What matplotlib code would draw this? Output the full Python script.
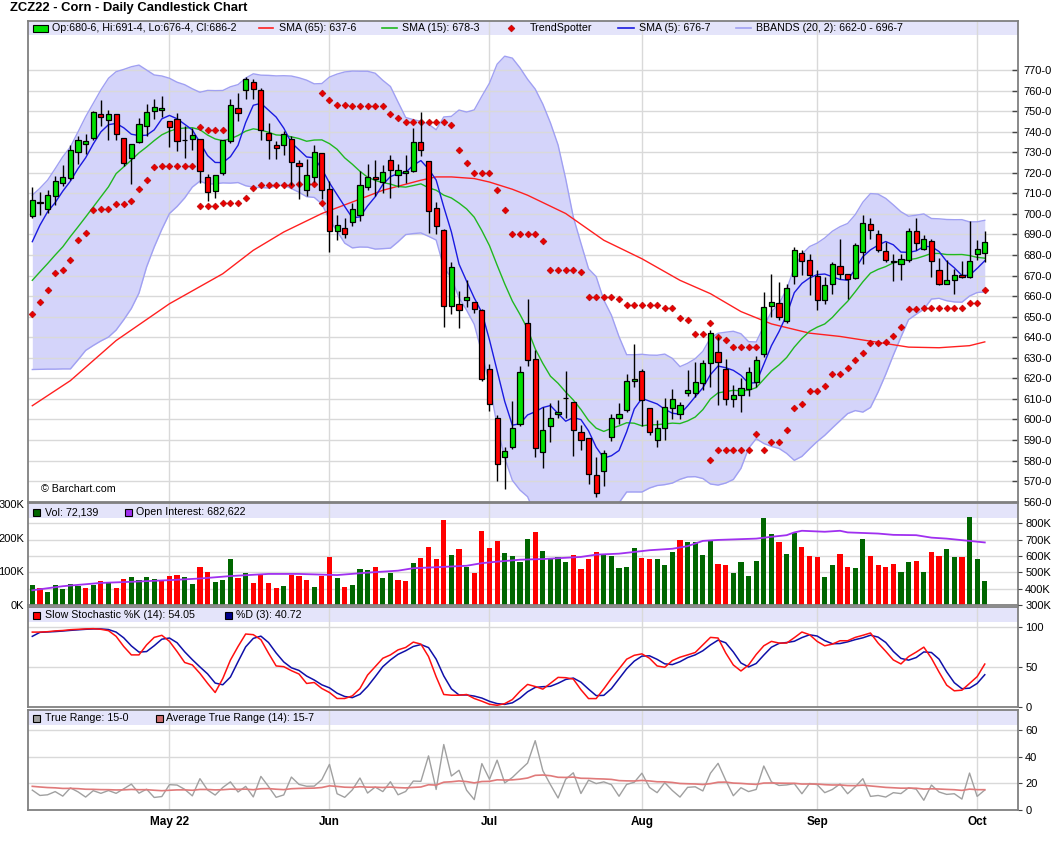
import numpy as np
import pandas as pd
import matplotlib
matplotlib.use("Agg")
import matplotlib.pyplot as plt
from matplotlib.patches import Rectangle
from matplotlib.lines import Line2D

plt.rcParams['font.family'] = ['Liberation Sans', 'DejaVu Sans']

# ---------------- data ----------------
dates = pd.bdate_range('2022-04-05', '2022-10-04')
holidays = pd.to_datetime(['2022-04-15', '2022-05-30', '2022-06-20', '2022-07-04', '2022-09-05'])
dates = dates[~dates.isin(holidays)]
month_labels = ['May 22', 'Jun', 'Jul', 'Aug', 'Sep', 'Oct']

opens = [
    699.1, 706.0, 702.4, 708.5, 715.0, 717.5, 730.2, 734.2, 736.8, 748.7,
    745.8, 748.7, 737.0, 727.2, 735.2, 742.8, 750.2, 750.7, 745.3, 746.3,
    736.2, 736.5, 736.5, 718.0, 711.3, 719.9, 735.7, 751.6, 760.1, 764.0,
    760.2, 739.4, 733.6, 733.3, 736.5, 724.8, 711.8, 718.0, 729.7, 712.1,
    691.5, 693.1, 695.9, 699.4, 713.1, 718.0, 715.5, 726.4, 719.1, 719.9,
    721.0, 735.0, 725.9, 702.8, 692.3, 655.4, 656.0, 658.1, 657.0, 653.3,
    624.8, 600.9, 581.9, 586.4, 597.8, 646.9, 629.3, 584.0, 596.7, 602.7,
    610.3, 608.7, 593.9, 591.0, 572.9, 575.1, 591.6, 600.6, 604.8, 618.6,
    623.6, 605.4, 590.0, 595.9, 605.6, 602.7, 612.9, 612.9, 617.8, 627.5,
    632.9, 624.5, 610.0, 612.0, 614.9, 618.3, 631.9, 655.3, 656.6, 647.8,
    669.9, 681.1, 677.4, 669.8, 657.9, 665.7, 674.7, 670.9, 669.0, 681.3,
    695.3, 690.4, 681.8, 676.4, 675.8, 677.7, 691.7, 683.1, 686.8, 672.9,
    666.0, 668.0, 670.3, 669.3, 680.7, 680.75]
highs = [
    712.9, 710.5, 711.8, 718.3, 723.8, 733.3, 738.1, 739.0, 750.0, 755.2,
    750.8, 748.7, 737.0, 734.1, 746.7, 753.7, 755.7, 757.3, 745.3, 749.2,
    742.7, 741.9, 736.5, 719.6, 718.9, 735.8, 755.7, 758.6, 766.6, 765.8,
    761.4, 744.3, 735.7, 740.2, 737.8, 726.4, 726.7, 733.3, 729.7, 715.9,
    699.6, 698.0, 705.3, 720.7, 724.5, 726.1, 724.0, 728.9, 724.5, 728.9,
    741.9, 749.5, 725.9, 705.6, 692.6, 676.8, 662.7, 667.9, 657.0, 653.6,
    627.2, 602.0, 586.4, 608.9, 625.8, 658.4, 633.9, 605.9, 607.9, 609.7,
    623.8, 608.7, 597.5, 591.0, 581.9, 585.1, 602.7, 608.1, 621.9, 636.5,
    624.6, 605.4, 599.8, 610.5, 614.9, 608.4, 624.1, 628.2, 628.7, 643.3,
    640.0, 629.5, 617.0, 620.2, 625.4, 631.1, 662.0, 670.9, 666.9, 665.7,
    683.9, 682.6, 680.3, 672.5, 669.3, 676.6, 688.0, 670.9, 685.9, 699.3,
    698.2, 692.4, 686.3, 680.3, 680.3, 693.3, 698.2, 689.6, 688.0, 678.7,
    677.7, 673.4, 677.1, 696.6, 687.5, 691.5]
lows = [
    698.0, 699.6, 700.4, 704.5, 713.4, 716.7, 724.5, 729.3, 736.2, 742.7,
    736.2, 736.2, 723.2, 714.7, 734.6, 738.1, 746.3, 747.2, 732.6, 730.5,
    727.2, 731.3, 715.0, 706.1, 707.7, 719.1, 734.6, 745.1, 756.0, 756.0,
    736.2, 726.7, 726.7, 728.9, 714.2, 707.2, 708.9, 715.4, 707.2, 681.7,
    687.4, 688.5, 694.2, 696.7, 711.8, 708.9, 710.2, 707.7, 713.1, 715.0,
    720.2, 728.0, 690.7, 690.2, 645.1, 651.3, 644.3, 654.9, 651.6, 618.8,
    604.1, 570.0, 566.1, 585.6, 597.0, 626.2, 581.9, 576.4, 588.9, 600.7,
    600.7, 582.4, 585.1, 568.6, 562.1, 567.8, 589.4, 597.8, 603.5, 615.7,
    597.0, 592.6, 586.8, 590.0, 600.3, 600.3, 611.6, 610.8, 614.4, 615.7,
    607.2, 607.2, 606.3, 603.5, 611.6, 615.7, 630.6, 649.8, 648.5, 646.9,
    665.7, 670.4, 660.4, 653.5, 656.3, 661.2, 668.5, 658.7, 668.5, 675.8,
    688.0, 681.5, 676.6, 667.3, 668.0, 676.6, 682.6, 682.3, 669.3, 665.2,
    666.0, 661.2, 668.9, 668.9, 677.4, 676.5]
closes = [
    706.7, 705.5, 709.2, 716.0, 718.0, 731.1, 736.0, 735.5, 749.7, 747.2,
    748.7, 739.1, 724.8, 734.1, 743.8, 749.7, 752.1, 751.6, 742.4, 735.7,
    736.2, 738.5, 721.1, 710.5, 718.9, 735.8, 752.9, 748.9, 765.8, 760.9,
    740.6, 736.2, 732.1, 738.9, 725.3, 723.5, 718.8, 730.0, 711.8, 691.5,
    694.6, 690.2, 702.4, 714.1, 718.0, 717.0, 720.2, 721.5, 721.2, 720.7,
    735.0, 731.3, 701.2, 694.2, 655.4, 674.1, 653.1, 659.4, 653.6, 619.9,
    607.4, 578.5, 584.5, 595.9, 623.2, 629.0, 586.1, 594.9, 600.7, 603.8,
    610.3, 594.9, 590.0, 573.4, 564.0, 583.7, 600.7, 602.7, 618.8, 619.7,
    609.5, 593.9, 595.9, 605.9, 610.0, 607.1, 614.1, 618.3, 627.5, 642.2,
    627.9, 610.0, 611.9, 615.4, 623.2, 629.0, 654.8, 657.1, 649.8, 664.1,
    682.6, 677.3, 670.4, 657.9, 665.6, 675.8, 670.9, 668.5, 685.0, 695.8,
    692.4, 682.3, 677.4, 677.0, 678.1, 691.7, 685.9, 688.0, 676.9, 666.0,
    667.7, 670.4, 669.3, 677.3, 682.8, 686.25]

volume_k = [
    59, 49, 38, 59, 47, 62, 56, 50, 59, 71,
    68, 50, 78, 84, 74, 84, 78, 74, 87, 90,
    84, 62, 114, 99, 68, 74, 136, 81, 96, 65,
    93, 65, 50, 56, 90, 87, 74, 53, 87, 142,
    81, 53, 59, 108, 105, 114, 81, 96, 74, 71,
    124, 140, 172, 136, 252, 148, 166, 114, 96, 221,
    169, 191, 154, 145, 127, 197, 218, 160, 136, 142,
    128, 148, 108, 136, 157, 151, 145, 111, 114, 169,
    139, 136, 136, 120, 157, 194, 188, 188, 148, 194,
    123, 120, 96, 127, 87, 130, 258, 212, 188, 151,
    215, 172, 145, 142, 84, 120, 151, 114, 111, 197,
    145, 120, 114, 123, 99, 127, 130, 99, 157, 145,
    166, 142, 142, 261, 136, 72.139]

oi_idx = [0, 4, 9, 13, 18, 22, 26, 31, 35, 40, 44, 48, 50, 53, 57, 59, 61, 64,
          67, 72, 74, 77, 81, 84, 86, 88, 90, 95, 97, 99, 100, 101, 104, 106,
          107, 111, 113, 116, 118, 120, 123, 125]
oi_k = [390, 415, 435, 442, 452, 462, 477, 490, 490, 483, 498, 510, 525, 531,
        540, 556, 565, 577, 581, 594, 608, 614, 635, 644, 660, 692, 698, 706,
        717, 727, 744, 754, 748, 754, 744, 737, 729, 727, 712, 706, 692, 682.6]

sma65_idx = [0, 5, 11, 18, 25, 29, 33, 38, 42, 46, 51, 53, 55, 58, 60, 63, 65,
             70, 75, 80, 85, 89, 93, 97, 102, 106, 110, 115, 119, 123, 125]
sma65_val = [606.7, 618.9, 638.4, 656.3, 670.9, 682.3, 691.2, 700.2, 705.8,
             711.5, 716.4, 718.0, 718.0, 717.2, 715.5, 712.0, 709.1, 700.2,
             687.2, 678.2, 667.7, 661.2, 652.5, 646.5, 642.0, 640.4, 638.1,
             635.2, 634.9, 635.9, 637.75]

# indicator values at the start of the chart (before a full window exists)
sma5_head = [686.5, 694.5, 701.0, 705.5]
sma15_head = [667.7, 671.8, 675.8, 680.0, 684.0, 689.0, 693.7, 698.5, 703.4,
              708.3, 713.2, 719.6, 722.9, 726.2]
bb_upper_head = [709.1, 712.5, 716.4, 722.0, 727.8, 732.6, 739.9, 747.3, 753.8,
                 760.3, 766.0, 769.2, 770.3, 771.6, 772.4, 770.0, 767.6, 767.1, 766.0]
bb_lower_head = [624.3, 624.4, 624.5, 624.5, 624.6, 624.6, 629.0, 633.6, 636.0,
                 638.2, 640.1, 643.5, 648.5, 654.0, 661.5, 674.2, 683.9, 692.5, 700.2]

N = None
ts_upper = [
    N, N, N, N, N, N, N, N, N, N,
    N, N, N, N, N, N, N, N, N, N,
    N, N, 742.2, 740.9, 740.9, 740.9, N, N, N, N,
    N, N, N, N, N, N, N, N, 758.8, 755.5,
    753.2, 753.2, 752.4, 752.4, 752.4, 752.4, 752.4, 748.8, 746.6, 744.7,
    744.7, 744.7, 744.7, 744.7, 744.7, 743.2, 731.1, 724.7, 719.8, 719.8,
    719.8, 711.7, 701.9, 690.4, 690.4, 690.4, 690.4, 687.0, 672.5, 672.5,
    672.5, 672.5, 671.6, 659.7, 659.7, 659.7, 659.7, 658.7, 655.8, 655.8,
    655.8, 655.8, 655.8, 654.0, 654.0, 649.6, 648.2, 641.7, 641.7, 647.0,
    639.9, 638.8, 635.5, 635.5, 635.5, 635.5, N, N, N, N,
    N, N, N, N, N, N, N, N, N, N,
    N, N, N, N, N, N, N, N, N, N,
    N, N, N, N, N, N]
ts_lower = [
    651.1, 657.0, 663.0, 671.1, 672.7, 677.5, 687.2, 690.7, 702.0, 702.5,
    702.5, 704.9, 704.9, 706.3, 712.1, 716.7, 722.8, 723.3, 723.3, 723.3,
    723.3, 723.3, 704.0, 704.0, 704.0, 705.3, 705.3, 705.3, 707.9, 712.8,
    714.1, 714.1, 714.1, 714.1, 714.1, 714.6, 714.6, 714.6, 705.3, N,
    N, N, N, N, N, N, N, N, N, N,
    N, N, N, N, N, N, N, N, N, N,
    N, N, N, N, N, N, N, N, N, N,
    N, N, N, N, N, N, N, N, N, N,
    N, N, N, N, N, N, N, N, N, 580.4,
    585.1, 585.1, 585.1, 585.1, 585.1, 592.9, 585.1, 589.0, 589.0, 594.9,
    605.4, 607.6, 613.7, 613.7, 616.3, 622.2, 622.2, 625.1, 629.0, 632.4,
    637.3, 637.3, 637.6, 640.7, 645.1, 653.9, 653.9, 654.3, 654.3, 654.3,
    654.3, 654.3, 654.3, 656.8, 656.8, 663.1]

stoch_k = [
    94, 94, 94.5, 95.5, 96, 97, 97.5, 98, 98.3, 97.5,
    95.8, 88.7, 76, 65.5, 65.5, 78, 87.4, 90, 82.4, 69.7,
    56, 53, 42.4, 30, 18.5, 36, 59, 76, 91.6, 90.8,
    84.5, 67.6, 51.7, 50.8, 45.8, 41.6, 29.8, 31, 23.5, 18.5,
    11, 11, 14.3, 23.5, 40.3, 50.8, 61.3, 65.5, 71.8, 74.8,
    81.5, 79, 63.4, 38.2, 16, 15.1, 15.1, 16, 11, 7.6,
    3.8, 2.5, 4.6, 9.7, 20, 28.6, 26, 22.7, 30, 37.4,
    37, 35.3, 22, 10.9, 10.9, 23, 36.1, 48, 60.1, 65,
    66.8, 61.3, 51.7, 50, 58.4, 62.6, 65.5, 68.5, 78, 87.4,
    86.6, 68, 52.9, 45.4, 52.9, 66, 76.9, 82.4, 80.3, 80.3,
    87, 94.1, 90.8, 82.4, 76.9, 79, 83.2, 83.2, 87.4, 90,
    92.9, 80.3, 70, 59.2, 54.2, 63.4, 69, 75.2, 61.3, 44,
    27.7, 20.6, 21.4, 29.8, 38.3, 54.05]
stoch_d_head = [88.7, 93.7]
atr_start = 17.75

# ---------------- derived series ----------------
n = len(closes)
x = np.arange(n)
o = np.array(opens); h = np.array(highs); l = np.array(lows); c = np.array(closes)
cs = pd.Series(c)
sma5 = cs.rolling(5).mean().to_numpy(); sma5[:4] = sma5_head
sma15 = cs.rolling(15).mean().to_numpy(); sma15[:14] = sma15_head
mid20 = cs.rolling(20).mean(); sd20 = cs.rolling(20).std(ddof=0)
bbu = (mid20 + 2 * sd20).to_numpy(); bbu[:19] = bb_upper_head
bbl = (mid20 - 2 * sd20).to_numpy(); bbl[:19] = bb_lower_head
tsu = np.array(ts_upper, dtype=float)
tsl = np.array(ts_lower, dtype=float)
k = np.array(stoch_k, dtype=float)
d = pd.Series(k).rolling(3).mean().to_numpy(); d[:2] = stoch_d_head
tr = np.empty(n); tr[0] = h[0] - l[0]
for i in range(1, n):
    tr[i] = max(h[i] - l[i], abs(h[i] - c[i - 1]), abs(l[i] - c[i - 1]))
atr = np.empty(n); atr[0] = atr_start
for i in range(1, n):
    atr[i] = atr[i - 1] + (tr[i] - atr[i - 1]) / 14.0
month_idx = [i for i in range(1, n) if dates[i].month != dates[i - 1].month]

# ---------------- figure layout ----------------
W, H = 1060, 851
fig = plt.figure(figsize=(W / 100, H / 100), dpi=100)
fig.patch.set_facecolor('white')
L_PX, R_PX = 28.3, 1018.3

def rect(top, bottom):
    return [L_PX / W, 1 - bottom / H, (R_PX - L_PX) / W, (bottom - top) / H]

def fx(px):
    return px / W

def fy(py):
    return 1 - py / H

ax1 = fig.add_axes(rect(20.7, 501.7))
ax2 = fig.add_axes(rect(503.3, 605.0), sharex=ax1)
ax3 = fig.add_axes(rect(607.3, 707.3), sharex=ax1)
ax4 = fig.add_axes(rect(710.0, 810.0), sharex=ax1)

GRID = '#d9d9d9'
BAND = '#e4e4fa'
FRAME = '#808080'
TFS = 8
LFS = 7.7

for ax, bh in [(ax1, 14.3 / 481), (ax2, 15 / 101.7), (ax3, 14.4 / 100), (ax4, 15 / 100)]:
    ax.add_patch(Rectangle((0, 1 - bh), 1, bh, transform=ax.transAxes,
                           facecolor=BAND, edgecolor='none', zorder=0.2))
    for s in ax.spines.values():
        s.set_color(FRAME)
        s.set_linewidth(1.3)
    for m in month_idx:
        ax.axvline(m, color=GRID, lw=1, zorder=0.6)
    ax.tick_params(axis='x', length=0, labelbottom=False)

ax1.set_xlim(-0.525, 129.4)

# ---------------- main price panel ----------------
ax1.set_ylim(560, 794.0)
for v in range(570, 780, 10):
    ax1.axhline(v, color=GRID, lw=1, zorder=0.6)
ax1.fill_between(x, bbl, bbu, color='#d4d4fa', lw=0, zorder=0.4)
ax1.plot(x, bbu, color='#a0a0f2', lw=1, zorder=0.7)
ax1.plot(x, bbl, color='#a0a0f2', lw=1, zorder=0.7)
ax1.plot(sma65_idx, sma65_val, color='#ff2020', lw=1, zorder=2)
ax1.plot(x, sma15, color='#20b820', lw=1, zorder=2)
ax1.plot(x, sma5, color='#1a1ae0', lw=1, zorder=2)
ax1.plot(x, tsu, ls='none', marker='D', ms=3.5, mfc='#e60000', mec='#b00000', mew=0.4, zorder=2.5)
ax1.plot(x, tsl, ls='none', marker='D', ms=3.5, mfc='#e60000', mec='#b00000', mew=0.4, zorder=2.5)
ax1.vlines(x, l, h, color='black', lw=1.0, zorder=3)
body_col = np.where(c > o, '#00e000', np.where(c < o, '#ff0000', 'black'))
ax1.bar(x, np.abs(c - o), bottom=np.minimum(o, c), width=0.68, color=body_col,
        edgecolor='black', linewidth=0.9, zorder=3.5)
ax1.yaxis.tick_right()
ax1.set_yticks(list(range(560, 780, 10)))
ax1.set_yticklabels([f"{v}-0" for v in range(560, 780, 10)])
ax1.tick_params(axis='y', direction='in', length=4, width=1, color='#444444',
                labelsize=TFS, pad=4)
ax1.text(0.0125, 0.027, '\u00a9 Barchart.com', transform=ax1.transAxes,
         fontsize=LFS, va='center', ha='left', zorder=5)

# ---------------- volume / open interest panel ----------------
vol = np.array(volume_k)
up = np.r_[True, c[1:] >= c[:-1]]
vcol = np.where(up, '#006600', '#ff0000')
ax2.set_ylim(0, 301.8)
ax2.bar(x, vol, width=0.68, color=vcol, lw=0, zorder=2)
ax2.set_yticks([0, 100, 200, 300])
ax2.set_yticklabels(['0K', '100K', '200K', '300K'])
ax2.tick_params(axis='y', length=0, labelsize=TFS, pad=3)
ax2b = ax2.twinx()
ax2b.set_ylim(300, 922)
for v in range(400, 900, 100):
    ax2.axhline((v - 300) / 622 * 301.8, color=GRID, lw=1, zorder=0.6)
ax2b.plot(oi_idx, oi_k, color='#a030f0', lw=1.3, zorder=3)
ax2b.set_yticks(list(range(300, 900, 100)))
ax2b.set_yticklabels([f"{v}K" for v in range(300, 900, 100)])
ax2b.tick_params(axis='y', direction='out', length=3, color='#444444', labelsize=TFS, pad=2)
for s in ax2b.spines.values():
    s.set_visible(False)

# ---------------- stochastic panel ----------------
ax3.set_ylim(0, 125)
for v in (50, 100):
    ax3.axhline(v, color=GRID, lw=1, zorder=0.6)
ax3.plot(x, d, color='#1010a8', lw=1.1, zorder=2)
ax3.plot(x, k, color='#ff1010', lw=1.1, zorder=2.2)
ax3.yaxis.tick_right()
ax3.set_yticks([0, 50, 100])
ax3.tick_params(axis='y', direction='out', length=3, color='#444444', labelsize=TFS, pad=2)

# ---------------- true range panel ----------------
ax4.set_ylim(0, 75)
for v in (20, 40, 60):
    ax4.axhline(v, color=GRID, lw=1, zorder=0.6)
ax4.plot(x, tr, color='#a0a0a0', lw=1, zorder=2)
ax4.plot(x, atr, color='#e07a7a', lw=1.2, zorder=2.2)
ax4.yaxis.tick_right()
ax4.set_yticks([0, 20, 40, 60])
ax4.tick_params(axis='y', direction='out', length=3, color='#444444', labelsize=TFS, pad=2)
ax4.set_xticks(month_idx)
ax4.set_xticklabels(month_labels, fontweight='bold', fontsize=8.5)
ax4.tick_params(axis='x', length=0, pad=4, labelbottom=True)

# ---------------- title and legends ----------------
fig.text(fx(10), fy(8.5), 'ZCZ22 - Corn - Daily Candlestick Chart', fontsize=9.4,
         fontweight='bold', va='center', ha='left')

def box(x0, y0, w, hh, color):
    fig.add_artist(Rectangle((fx(x0), fy(y0 + hh)), w / W, hh / H, transform=fig.transFigure,
                             facecolor=color, edgecolor='black', lw=0.8, zorder=10))

def seg(x0, x1, yy, color, lw=1.2):
    fig.add_artist(Line2D([fx(x0), fx(x1)], [fy(yy), fy(yy)], transform=fig.transFigure,
                          color=color, lw=lw, zorder=10))

def txt(x0, yy, s):
    fig.text(fx(x0), fy(yy), s, fontsize=LFS, va='center', ha='left', zorder=10)

ym = 28.3
box(33.3, 25.3, 14.4, 6.2, '#00e000'); txt(52.3, ym, 'Op:680-6, Hi:691-4, Lo:676-4, Cl:686-2')
seg(259, 273, ym, '#ff2020'); txt(279, ym, 'SMA (65): 637-6')
seg(382, 397, ym, '#20b820'); txt(401.7, ym, 'SMA (15): 678-3')
fig.add_artist(Line2D([fx(511)], [fy(ym)], transform=fig.transFigure, marker='D', ms=3.5,
                      mfc='#e60000', mec='#b00000', mew=0.4, zorder=10))
txt(530, ym, 'TrendSpotter')
seg(618, 634, ym, '#1a1ae0'); txt(638.8, ym, 'SMA (5): 676-7')
seg(736, 751, ym, '#a0a0f2'); txt(756, ym, 'BBANDS (20, 2): 662-0 - 696-7')

yv = 512.2
box(33.3, yv - 3.3, 6.6, 6.6, '#006600'); txt(45, yv, 'Vol: 72,139')
box(125, yv - 3.3, 6.6, 6.6, '#a030f0'); txt(136, yv, 'Open Interest: 682,622')

ys = 615.2
box(33.3, ys - 3.3, 6.6, 6.6, '#ff0000'); txt(45, ys, 'Slow Stochastic %K (14): 54.05')
box(225, ys - 3.3, 6.6, 6.6, '#00008b'); txt(236, ys, '%D (3): 40.72')

yt = 718.3
box(33.3, yt - 3.3, 6.6, 6.6, '#a0a0a0'); txt(45, yt, 'True Range: 15-0')
box(156, yt - 3.3, 6.6, 6.6, '#cd6b6b'); txt(165.7, yt, 'Average True Range (14): 15-7')

fig.savefig('out.png', dpi=100, facecolor='white')
